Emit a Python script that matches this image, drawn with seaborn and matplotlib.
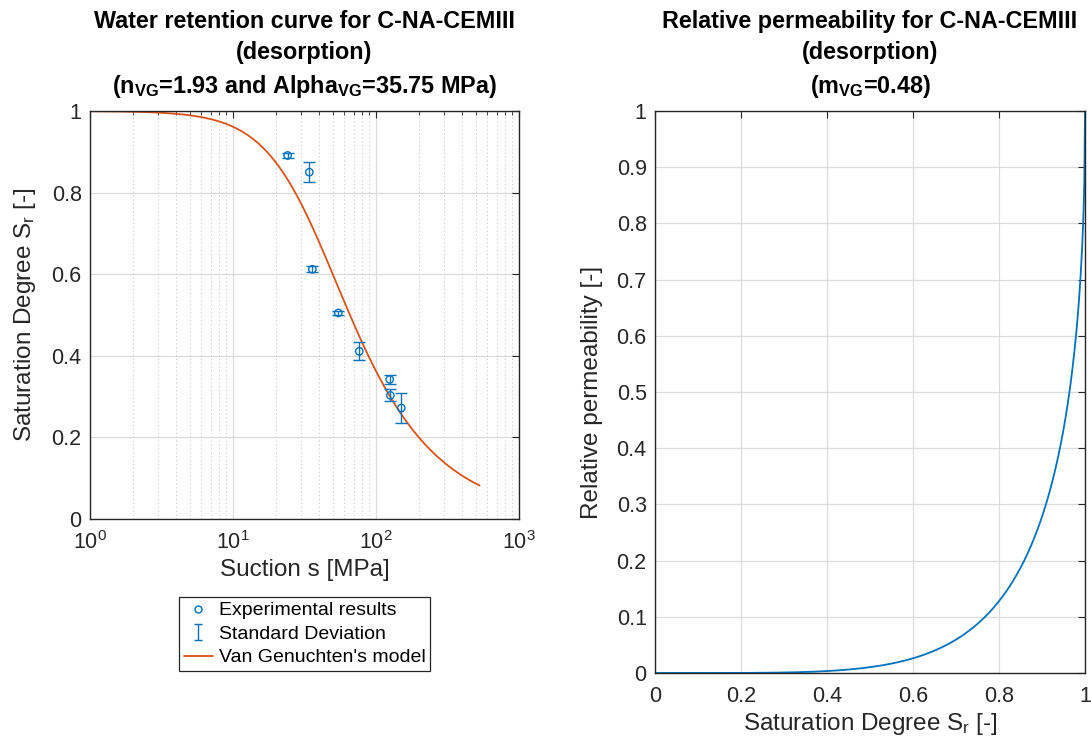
import numpy as np
import pandas as pd
import matplotlib
matplotlib.use("Agg")
import matplotlib.pyplot as plt
from matplotlib.path import Path
from matplotlib.lines import Line2D
from matplotlib.ticker import LogLocator, FixedLocator, FuncFormatter
import seaborn as sns

# ---------------- data ----------------
suction_mpa = [24.1, 34.2, 35.9, 54.5, 76.4, 124.7, 126.0, 150.3]
sr_exp = [0.891, 0.850, 0.612, 0.505, 0.411, 0.342, 0.303, 0.272]
sr_std = [0.006, 0.025, 0.007, 0.004, 0.022, 0.011, 0.015, 0.037]

n_vg = 1.93
alpha_vg = 35.75
m_vg = 0.48
suction_range = (1.0, 530.0)

left_yticks = [0, 0.2, 0.4, 0.6, 0.8, 1]
right_xticks = [0, 0.2, 0.4, 0.6, 0.8, 1]
right_yticks = [0, 0.1, 0.2, 0.3, 0.4, 0.5, 0.6, 0.7, 0.8, 0.9, 1]

# model curves from stated parameters
s_model = np.logspace(np.log10(suction_range[0]), np.log10(suction_range[1]), 400)
sr_model = (1 + (s_model / alpha_vg) ** n_vg) ** (-m_vg)
sr_axis = np.linspace(0, 1, 600)
kr_model = np.sqrt(sr_axis) * (1 - (1 - sr_axis ** (1 / m_vg)) ** m_vg) ** 2

df_exp = pd.DataFrame({"s": suction_mpa, "Sr": sr_exp, "std": sr_std})
df_vg = pd.DataFrame({"s": s_model, "Sr": sr_model})
df_kr = pd.DataFrame({"Sr": sr_axis, "kr": kr_model})

# ---------------- style ----------------
sns.set_style("white")
plt.rcParams.update({
    "font.family": ["Liberation Sans", "DejaVu Sans"],
    "mathtext.fontset": "custom",
    "mathtext.rm": "Liberation Sans",
    "mathtext.it": "Liberation Sans:italic",
    "mathtext.bf": "Liberation Sans:bold",
    "xtick.direction": "in",
    "ytick.direction": "in",
    "axes.edgecolor": "#262626",
    "text.color": "#000000",
    "axes.labelcolor": "#262626",
    "xtick.color": "#262626",
    "ytick.color": "#262626",
})

BLUE = "#0072BD"
ORANGE = "#D95319"
GRID = "#dcdcdc"
TICK_FS = 15.5
LABEL_FS = 17.5
TITLE_FS = 16.8

fig = plt.figure(figsize=(10.91, 7.43), dpi=100)
axL = fig.add_axes([90 / 1091, 1 - 519 / 743, 429 / 1091, 408 / 743])
axR = fig.add_axes([655 / 1091, 1 - 673 / 743, 430 / 1091, 562 / 743])

for ax in (axL, axR):
    for sp in ax.spines.values():
        sp.set_color("#262626")
        sp.set_linewidth(1.0)
    ax.tick_params(which="both", direction="in", top=True, right=True,
                   labelsize=TICK_FS, colors="#262626")
    ax.tick_params(axis="y", pad=6)
    ax.tick_params(axis="x", pad=9)
    ax.tick_params(which="major", length=5, width=0.8)
    ax.tick_params(which="minor", length=3, width=0.6)
    ax.set_axisbelow(True)

# ---------------- left panel ----------------
axL.set_xscale("log")
axL.set_xlim(1, 1000)
axL.set_ylim(0, 1)
axL.xaxis.set_major_locator(LogLocator(base=10, numticks=10))
axL.xaxis.set_minor_locator(LogLocator(base=10, subs=np.arange(2, 10), numticks=20))
axL.xaxis.set_major_formatter(FuncFormatter(lambda v, p: f"$\\mathregular{{10^{{{int(round(np.log10(v)))}}}}}$"))
axL.yaxis.set_major_locator(FixedLocator(left_yticks))
axL.yaxis.set_major_formatter(FuncFormatter(lambda v, p: f"{v:g}"))
axL.grid(True, which="major", color=GRID, linewidth=0.9)
axL.grid(True, which="minor", axis="x", color="#c8c8c8", linestyle=(0, (1, 2.5)), linewidth=0.8)

sns.lineplot(data=df_vg, x="s", y="Sr", ax=axL, color=ORANGE, linewidth=1.3,
             sort=False, estimator=None, legend=False)
axL.errorbar(df_exp["s"], df_exp["Sr"], yerr=df_exp["std"], fmt="none",
             ecolor=BLUE, elinewidth=1.0, capsize=4, capthick=1.0)
sns.scatterplot(data=df_exp, x="s", y="Sr", ax=axL, marker="o", s=28,
                facecolor="none", edgecolor=BLUE, linewidth=1.0, legend=False, zorder=5)

axL.set_xlabel("Suction s [MPa]", fontsize=LABEL_FS, labelpad=3)
axL.set_ylabel("Saturation Degree S$_\\mathregular{r}$ [-]", fontsize=LABEL_FS, labelpad=10)
axL.set_title("Water retention curve for C-NA-CEMIII\n(desorption)\n"
              "($\\mathbf{n_{VG}}$=1.93 and Alpha$_\\mathbf{VG}$=35.75 MPa)",
              fontsize=TITLE_FS, fontweight="bold", pad=13, linespacing=1.45)

# legend
ebar_marker = Path([(0, -1), (0, 1), (-0.5, 1), (0.5, 1), (-0.5, -1), (0.5, -1)],
                   [Path.MOVETO, Path.LINETO, Path.MOVETO, Path.LINETO, Path.MOVETO, Path.LINETO])
handles = [
    Line2D([], [], linestyle="none", marker="o", markersize=5, markerfacecolor="none",
           markeredgecolor=BLUE, markeredgewidth=1.0),
    Line2D([], [], linestyle="none", marker=ebar_marker, markersize=12,
           markerfacecolor="none", markeredgecolor=BLUE, markeredgewidth=1.0),
    Line2D([], [], color=ORANGE, linewidth=1.3),
]
labels = ["Experimental results", "Standard Deviation", "Van Genuchten's model"]
leg = fig.legend(handles, labels, loc="upper center",
                 bbox_to_anchor=(304.5 / 1091, 1 - 597 / 743),
                 bbox_transform=fig.transFigure, fontsize=14, frameon=True,
                 fancybox=False, framealpha=1, edgecolor="#262626",
                 handlelength=1.5, handletextpad=0.3, borderpad=0.25,
                 labelspacing=0.3, borderaxespad=0)
leg.get_frame().set_linewidth(0.9)

# ---------------- right panel ----------------
sns.lineplot(data=df_kr, x="Sr", y="kr", ax=axR, color=BLUE, linewidth=1.3,
             sort=False, estimator=None, legend=False)
axR.set_xlim(0, 1)
axR.set_ylim(0, 1)
axR.xaxis.set_major_locator(FixedLocator(right_xticks))
axR.yaxis.set_major_locator(FixedLocator(right_yticks))
fmt = FuncFormatter(lambda v, p: f"{v:g}")
axR.xaxis.set_major_formatter(fmt)
axR.yaxis.set_major_formatter(fmt)
axR.grid(True, which="major", color=GRID, linewidth=0.9)
axR.set_xlabel("Saturation Degree S$_\\mathregular{r}$ [-]", fontsize=LABEL_FS, labelpad=3)
axR.set_ylabel("Relative permeability [-]", fontsize=LABEL_FS, labelpad=10)
axR.set_title("Relative permeability for C-NA-CEMIII\n(desorption)\n"
              "($\\mathbf{m_{VG}}$=0.48)",
              fontsize=TITLE_FS, fontweight="bold", pad=13, linespacing=1.45)

fig.savefig("out.png", dpi=100)
